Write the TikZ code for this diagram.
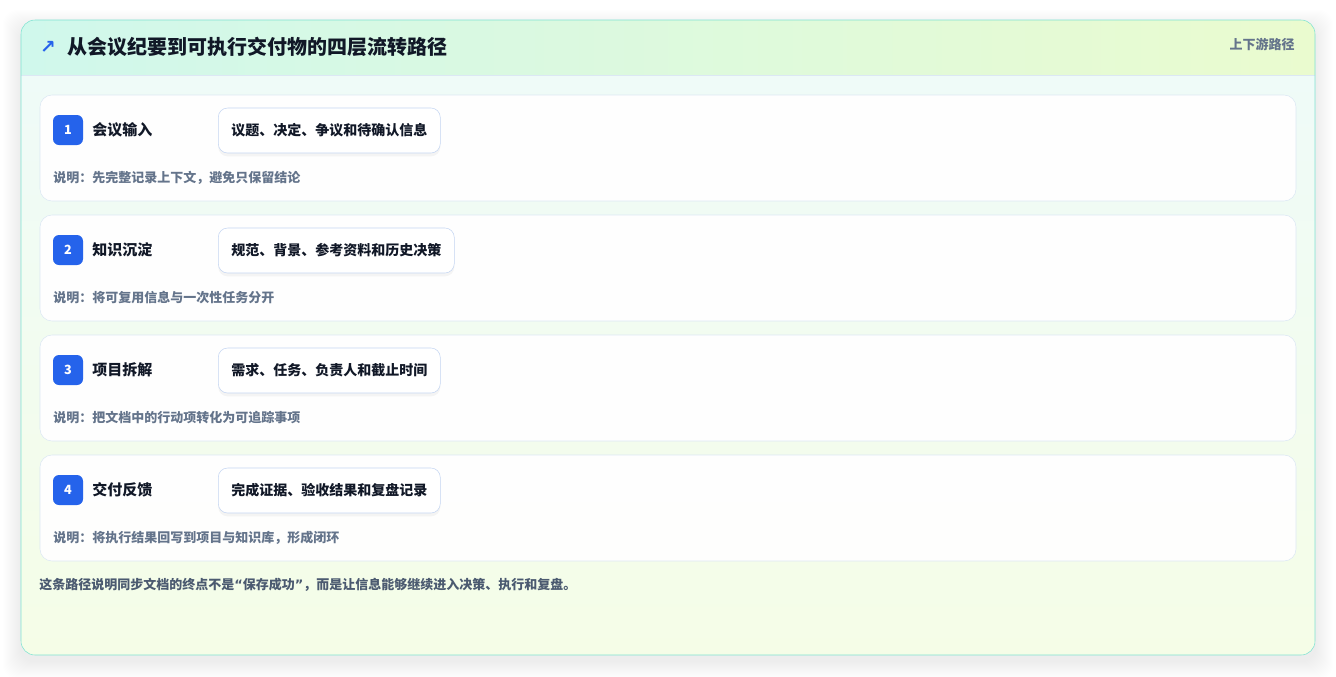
\documentclass[tikz,border=0pt]{standalone}
\usepackage{fontspec}
\setmainfont{Noto Sans CJK SC}
\newfontfamily\symfont{DejaVu Sans}
\usetikzlibrary{positioning, shadows}
\definecolor{headL}{HTML}{D0F8EC}
\definecolor{headR}{HTML}{EAFBCF}
\definecolor{bodyT}{HTML}{EFFBF8}
\definecolor{bodyB}{HTML}{F5FDE7}
\definecolor{cardline}{HTML}{7EE3D2}
\definecolor{rowline}{HTML}{DCE8F4}
\definecolor{pillline}{HTML}{C5D6F2}
\definecolor{accent}{HTML}{2563EB}
\definecolor{ink}{HTML}{111827}
\definecolor{muted}{HTML}{64748B}
\definecolor{foot}{HTML}{4B5A70}

\begin{document}
\begin{tikzpicture}[x=0.75pt, y=-0.75pt,
    rowcard/.style={rectangle, draw=rowline, fill=white, fill opacity=0.95, rounded corners=9pt, minimum width=942pt, minimum height=79.5pt},
    badge/.style={rectangle, fill=accent, rounded corners=4.5pt, minimum width=22.5pt, minimum height=22.5pt, inner sep=0pt, text=white, font=\bfseries\fontsize{9.5}{9.5}\selectfont},
    stage/.style={anchor=west, inner sep=0pt, text=ink, font=\bfseries\fontsize{11.25}{11.25}\selectfont},
    pill/.style={rectangle, draw=pillline, fill=white, rounded corners=7pt, anchor=west, minimum height=33.75pt, inner xsep=9.75pt, text=ink, font=\bfseries\fontsize{10.5}{10.5}\selectfont, drop shadow={opacity=0.08, shadow xshift=0pt, shadow yshift=-2.5pt}},
    note/.style={anchor=west, inner sep=0pt, text=muted, font=\bfseries\fontsize{9.75}{9.75}\selectfont}]

    \useasboundingbox (0,0) rectangle (1336,676);
    \fill[white] (0,0) rectangle (1336,676);

    % Outer card with soft shadow
    \foreach \s in {1,...,18}
        \fill[black, opacity=0.005, rounded corners=10.5pt] (21-\s,20-\s+8) rectangle (1315+\s,655+\s+6);
    \begin{scope}
        \clip[rounded corners=10.5pt] (21,20) rectangle (1315,655);
        \shade[left color=headL, right color=headR] (21,20) rectangle (1315,75);
        \shade[top color=bodyT, bottom color=bodyB] (21,75) rectangle (1315,655);
    \end{scope}
    \draw[rowline] (21,75) -- (1315,75);
    \draw[cardline, rounded corners=10.5pt] (21,20) rectangle (1315,655);

    % Header
    \node[text=accent, font=\symfont\bfseries\fontsize{14}{14}\selectfont] (arrowicon) at (48,47) {↗};
    \node[anchor=west, inner sep=0pt, text=ink, font=\bfseries\fontsize{15}{15}\selectfont] (title) at (67,47) {从会议纪要到可执行交付物的四层流转路径};
    \node[anchor=east, inner sep=0pt, text=muted, font=\bfseries\fontsize{9.75}{9.75}\selectfont] (scope) at (1295,44) {上下游路径};

    % Level 1
    \node[rowcard] (row1) at (668,148) {};
    \node[badge] (num1) at (68,130) {1};
    \node[stage] (name1) at (92,130) {会议输入};
    \node[pill] (pill1) at (218,130.5) {议题、决定、争议和待确认信息};
    \node[note] (note1) at (53,178) {说明：先完整记录上下文，避免只保留结论};

    % Level 2
    \node[rowcard] (row2) at (668,268) {};
    \node[badge] (num2) at (68,250) {2};
    \node[stage] (name2) at (92,250) {知识沉淀};
    \node[pill] (pill2) at (218,250.5) {规范、背景、参考资料和历史决策};
    \node[note] (note2) at (53,298) {说明：将可复用信息与一次性任务分开};

    % Level 3
    \node[rowcard] (row3) at (668,388) {};
    \node[badge] (num3) at (68,370) {3};
    \node[stage] (name3) at (92,370) {项目拆解};
    \node[pill] (pill3) at (218,370.5) {需求、任务、负责人和截止时间};
    \node[note] (note3) at (53,418) {说明：把文档中的行动项转化为可追踪事项};

    % Level 4
    \node[rowcard] (row4) at (668,508) {};
    \node[badge] (num4) at (68,490) {4};
    \node[stage] (name4) at (92,490) {交付反馈};
    \node[pill] (pill4) at (218,490.5) {完成证据、验收结果和复盘记录};
    \node[note] (note4) at (53,538) {说明：将执行结果回写到项目与知识库，形成闭环};

    % Footer remark
    \node[anchor=west, inner sep=0pt, text=foot, font=\bfseries\fontsize{9.75}{9.75}\selectfont] (remark) at (39,585) {这条路径说明同步文档的终点不是{\symfont “}保存成功{\symfont ”}，而是让信息能够继续进入决策、执行和复盘。};

\end{tikzpicture}
\end{document}
